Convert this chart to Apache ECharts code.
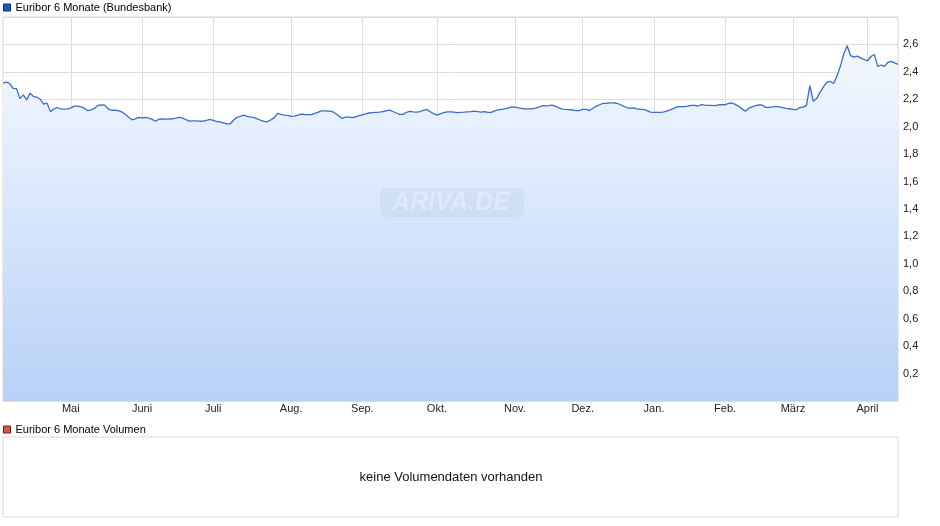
<!DOCTYPE html>
<html>
<head>
<meta charset="utf-8">
<script src="https://cdn.jsdelivr.net/npm/echarts@6/dist/echarts.min.js"></script>
<style>
html,body{margin:0;padding:0;background:#fff;}
#chart{width:940px;height:526px;}
</style>
</head>
<body>
<div id="chart"></div>
<script>
// Trading-day calendar (TARGET) of the chart
const startDate = '2025-04-01';
const endDate = '2026-04-16';
const holidays = ['2025-04-18','2025-04-21','2025-05-01','2025-12-25','2025-12-26','2026-01-01','2026-04-03','2026-04-06'];

// Month tick labels
const monthLabels = ['Jan.','Feb.','März','April','Mai','Juni','Juli','Aug.','Sep.','Okt.','Nov.','Dez.'];

// Euribor 6 Monate (Bundesbank), one value per trading day
const euribor = [
2.318,2.325,2.315,2.280,2.278,2.205,2.232,2.195,2.245,2.220,
2.215,2.200,2.165,2.172,2.110,2.130,2.140,2.130,2.128,2.130,
2.135,2.150,2.150,2.145,2.135,2.117,2.122,2.135,2.155,2.160,
2.157,2.130,2.120,2.120,2.117,2.108,2.093,2.070,2.050,2.057,
2.068,2.065,2.068,2.062,2.053,2.040,2.055,2.057,2.055,2.056,
2.058,2.062,2.068,2.062,2.051,2.041,2.043,2.043,2.040,2.041,
2.047,2.053,2.047,2.038,2.035,2.028,2.020,2.020,2.049,2.068,
2.075,2.085,2.076,2.070,2.068,2.057,2.047,2.039,2.036,2.050,
2.066,2.097,2.090,2.085,2.082,2.075,2.077,2.085,2.092,2.089,
2.088,2.088,2.098,2.107,2.115,2.115,2.114,2.112,2.098,2.080,
2.060,2.070,2.070,2.067,2.072,2.080,2.087,2.094,2.100,2.103,
2.105,2.107,2.110,2.116,2.121,2.111,2.100,2.090,2.090,2.105,
2.112,2.108,2.107,2.110,2.120,2.126,2.110,2.095,2.084,2.094,
2.103,2.108,2.108,2.106,2.103,2.105,2.106,2.108,2.110,2.113,
2.110,2.107,2.110,2.104,2.105,2.115,2.123,2.127,2.130,2.136,
2.144,2.143,2.137,2.133,2.131,2.130,2.130,2.135,2.143,2.153,
2.152,2.154,2.158,2.149,2.138,2.129,2.126,2.124,2.122,2.118,
2.117,2.127,2.127,2.118,2.135,2.150,2.160,2.170,2.170,2.174,
2.174,2.171,2.162,2.150,2.140,2.133,2.138,2.130,2.127,2.126,
2.118,2.107,2.105,2.105,2.105,2.108,2.116,2.124,2.135,2.146,
2.146,2.146,2.150,2.155,2.156,2.151,2.161,2.157,2.156,2.155,
2.154,2.159,2.160,2.160,2.170,2.173,2.163,2.148,2.130,2.113,
2.135,2.145,2.154,2.159,2.157,2.141,2.142,2.144,2.148,2.144,
2.139,2.134,2.131,2.126,2.124,2.140,2.143,2.155,2.300,2.185,
2.205,2.250,2.290,2.325,2.330,2.315,2.370,2.440,2.530,2.590,
2.518,2.507,2.515,2.500,2.490,2.480,2.512,2.527,2.440,2.450,
2.440,2.470,2.477,2.465,2.455
];

// Build trading-day categories
const dates = [];
(function(){
  const d = new Date(startDate + 'T00:00:00Z');
  const end = new Date(endDate + 'T00:00:00Z');
  while (d <= end) {
    const wd = d.getUTCDay();
    const s = d.toISOString().slice(0,10);
    if (wd !== 0 && wd !== 6 && holidays.indexOf(s) < 0) dates.push(s);
    d.setUTCDate(d.getUTCDate() + 1);
  }
})();

const isMonthStart = (idx) => idx > 0 && dates[idx] && dates[idx-1] && dates[idx].slice(0,7) !== dates[idx-1].slice(0,7);

const FONT = 'Arial, "Liberation Sans", sans-serif';
const chart = echarts.init(document.getElementById('chart'), null, {renderer:'canvas'});

chart.setOption({
  animation: false,
  backgroundColor: '#ffffff',
  textStyle: {fontFamily: FONT},
  legend: [
    {
      left: 3, top: 2, padding: 0, itemWidth: 7, itemHeight: 7, itemGap: 4,
      icon: 'rect',
      textStyle: {fontSize: 11, color: '#000', fontFamily: FONT},
      data: [{name: 'Euribor 6 Monate (Bundesbank)', itemStyle: {color: '#1f56c2', borderColor: '#0d2f7a', borderWidth: 1}}],
      selectedMode: false
    },
    {
      left: 3, top: 424, padding: 0, itemWidth: 7, itemHeight: 7, itemGap: 4,
      icon: 'rect',
      textStyle: {fontSize: 11, color: '#000', fontFamily: FONT},
      data: [{name: 'Euribor 6 Monate Volumen', itemStyle: {color: '#d9534f', borderColor: '#6b1c1a', borderWidth: 1}}],
      selectedMode: false
    }
  ],
  grid: [
    {left: 3, top: 17, width: 895, height: 384, show: true, borderColor: '#d6d6d6', borderWidth: 1, backgroundColor: 'transparent'},
    {left: 3, top: 437, width: 895, height: 80, show: true, borderColor: '#d9d9d9', borderWidth: 1, backgroundColor: '#fff'}
  ],
  xAxis: [
    {
      type: 'category', gridIndex: 0, data: dates, boundaryGap: false,
      axisLine: {show: false},
      axisTick: {show: false},
      axisLabel: {
        interval: (idx) => isMonthStart(idx),
        formatter: (v) => monthLabels[parseInt(v.slice(5,7),10)-1],
        fontSize: 11, color: '#222', margin: 2, fontFamily: FONT
      },
      splitLine: {show: true, interval: (idx) => isMonthStart(idx), lineStyle: {color: '#dcdcdc', width: 1}}
    },
    {type: 'category', gridIndex: 1, data: [], show: false}
  ],
  yAxis: [
    {
      type: 'value', gridIndex: 0, position: 'right', min: 0, max: 2.8, interval: 0.2,
      axisLine: {show: false}, axisTick: {show: false},
      axisLabel: {
        fontSize: 11, color: '#222', margin: 5, fontFamily: FONT,
        formatter: (v) => (v <= 0.001 || v >= 2.79) ? '' : v.toFixed(1).replace('.', ',')
      },
      splitLine: {show: true, lineStyle: {color: '#dcdcdc', width: 1}}
    },
    {type: 'value', gridIndex: 1, show: false, min: 0, max: 1}
  ],
  graphic: {
    elements: [
      {
        type: 'rect', id: 'wmPlate', z: 100, zlevel: 0, silent: true,
        shape: {x: 380, y: 188, width: 144, height: 29, r: 7},
        style: {fill: 'rgba(110,140,190,0.09)'}
      },
      {
        type: 'text', id: 'wmText', z: 101, zlevel: 0, silent: true,
        x: 451, y: 203,
        style: {text: 'ARIVA.DE', fontSize: 25, fontWeight: 'bold', fontStyle: 'italic', fontFamily: FONT, fill: 'rgba(255,255,255,0.3)', align: 'center', verticalAlign: 'middle'}
      },
      {
        type: 'text', id: 'noVol', silent: true, x: 451, y: 477,
        style: {text: 'keine Volumendaten vorhanden', fontSize: 13, fontFamily: FONT, fill: '#111', align: 'center', verticalAlign: 'middle'}
      }
    ]
  },
  series: [
    {
      name: 'Euribor 6 Monate (Bundesbank)', type: 'line', xAxisIndex: 0, yAxisIndex: 0,
      data: euribor, symbol: 'none', smooth: false,
      lineStyle: {color: '#3a6cc8', width: 1.3},
      itemStyle: {color: '#1f56c2'},
      areaStyle: {
        color: new echarts.graphic.LinearGradient(0, 0, 0, 1, [
          {offset: 0, color: '#f4f8fe'},
          {offset: 1, color: '#b8d1f7'}
        ]),
        opacity: 1
      },
      z: 3
    },
    {
      name: 'Euribor 6 Monate Volumen', type: 'bar', xAxisIndex: 1, yAxisIndex: 1, data: [],
      itemStyle: {color: '#d9534f'}
    }
  ]
});
</script>
</body>
</html>
